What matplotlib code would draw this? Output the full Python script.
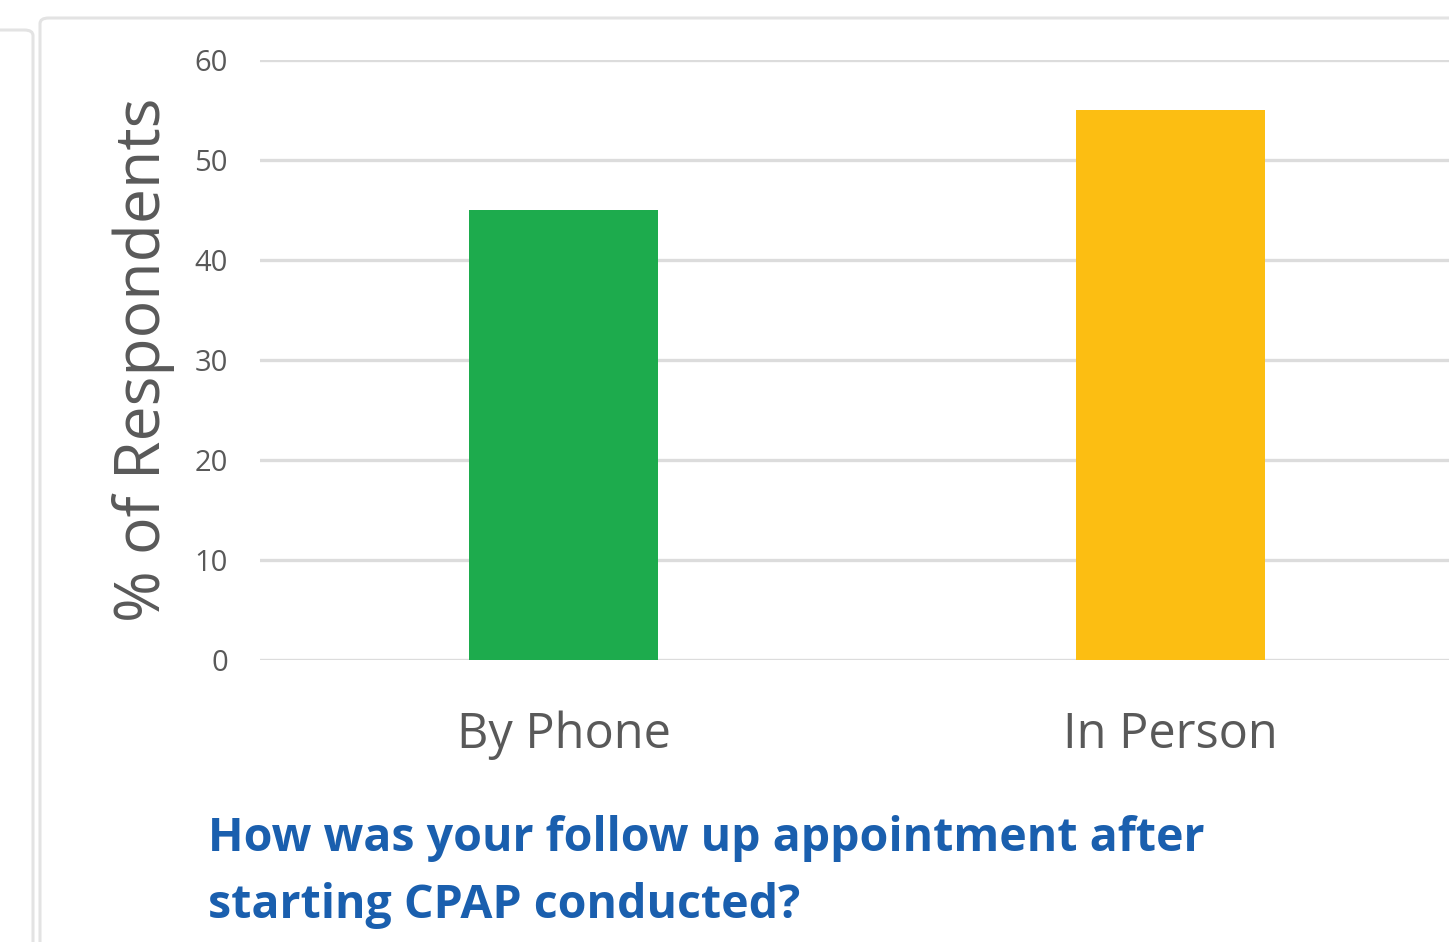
import matplotlib.pyplot as plt
from matplotlib.patches import FancyBboxPatch

plt.rcParams['font.family'] = ['Open Sans', 'DejaVu Sans']

categories = ['By Phone', 'In Person']
pct_respondents = [45, 55]
bar_colors = ['#1DAB4D', '#FCBE12']
y_ticks = [0, 10, 20, 30, 40, 50, 60]
title = 'How was your follow up appointment after\nstarting CPAP conducted?'

W, H = 1449, 942
fig = plt.figure(figsize=(W / 100, H / 100), dpi=100)

# card outlines (neighbouring panel on the left, this panel's frame)
fig.patches.append(FancyBboxPatch((-0.05, -0.1), 33 / W + 0.05, 1 - 30 / H + 0.1,
                                  boxstyle='round,pad=0,rounding_size=0.006',
                                  transform=fig.transFigure, fill=False,
                                  edgecolor='#E3E3E3', lw=2.2))
fig.patches.append(FancyBboxPatch((40 / W, -0.1), 1.1, 1 - 18 / H + 0.1,
                                  boxstyle='round,pad=0,rounding_size=0.006',
                                  transform=fig.transFigure, fill=False,
                                  edgecolor='#E3E3E3', lw=2.2))

ax = fig.add_axes([260 / W, 282 / H, 1214 / W, 600 / H])
x = range(len(categories))
ax.bar(x, pct_respondents, width=0.313, color=bar_colors, zorder=3)
ax.set_xlim(-0.5, 1.5)
ax.set_ylim(0, 60)
ax.set_yticks(y_ticks)
ax.set_xticks(list(x))
ax.set_xticklabels(categories, fontsize=35, color='#595959')
ax.tick_params(axis='x', length=0, pad=36)
ax.tick_params(axis='y', length=0, pad=23, labelsize=21, labelcolor='#595959')
ax.grid(axis='y', color='#DCDCDC', lw=2.4, zorder=0)
for s in ax.spines.values():
    s.set_visible(False)
ax.set_ylabel('% of Respondents', fontsize=45, color='#595959', labelpad=14)

fig.text(208 / W, 1 - 918 / H, title, fontsize=33.5, fontweight='bold',
         color='#1A5FAE', ha='left', va='baseline', linespacing=1.55)

fig.savefig('out.png', dpi=100)
